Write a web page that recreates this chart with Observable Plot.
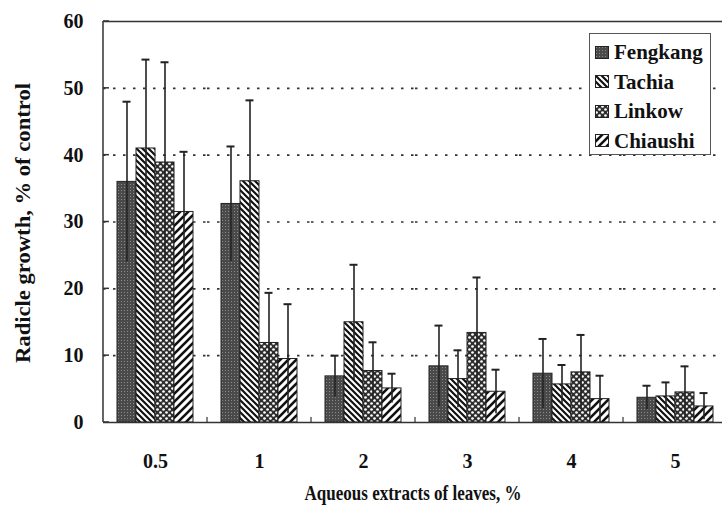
<!DOCTYPE html>
<html><head><meta charset="utf-8">
<script src="https://cdn.jsdelivr.net/npm/d3@7"></script>
<script src="https://cdn.jsdelivr.net/npm/@observablehq/plot@0.6"></script>
<style>
body{margin:0;background:#fff;}
#wrap{position:relative;width:722px;height:506px;overflow:hidden;font-family:"Liberation Serif","Times New Roman",serif;font-weight:bold;color:#111;}
#legend{position:absolute;left:589px;top:33px;width:122px;height:122px;border:1px solid #555;box-sizing:border-box;background:#fff;}
.item{position:absolute;left:5px;height:22px;display:flex;align-items:center;font-size:21px;line-height:22px;}
.item svg{margin-right:5px;}
#ylab{position:absolute;left:23px;top:223px;white-space:nowrap;font-size:20px;line-height:20px;}
#xlab{position:absolute;left:413px;top:493px;white-space:nowrap;font-size:21px;line-height:21px;}
#defs{position:absolute;width:0;height:0;}
svg text{font-family:"Liberation Serif","Times New Roman",serif;}
</style></head>
<body>
<div id="wrap">
<svg id="defs" width="0" height="0">
<defs>
<pattern id="pat-0" width="3" height="3" patternUnits="userSpaceOnUse">
<rect width="3" height="3" fill="#4a4a4a"/><rect x="1" y="1" width="1" height="1" fill="#8a8a8a"/>
</pattern>
<pattern id="pat-1" width="6" height="6" patternUnits="userSpaceOnUse">
<rect width="6" height="6" fill="#fff"/>
<path d="M-1,-1 L7,7 M-1,5 L1,7 M5,-1 L7,1" stroke="#111" stroke-width="2.2"/>
</pattern>
<pattern id="pat-2" width="6" height="6" patternUnits="userSpaceOnUse">
<rect width="6" height="6" fill="#2e2e2e"/>
<circle cx="1.5" cy="1.5" r="1.35" fill="#fff"/><circle cx="4.5" cy="4.5" r="1.35" fill="#fff"/>
</pattern>
<pattern id="pat-3" width="8" height="8" patternUnits="userSpaceOnUse">
<rect width="8" height="8" fill="#fff"/>
<path d="M-1,9 L9,-1 M-1,1 L1,-1 M7,9 L9,7" stroke="#111" stroke-width="2.6"/>
</pattern>
</defs>
</svg>
<div id="chart"></div>
<div id="ylab">Radicle growth, % of control</div>
<div id="xlab">Aqueous extracts of leaves, %</div>
<div id="legend"></div>
</div>
<script>
const categories = ["0.5", "1", "2", "3", "4", "5"];
const series = ["Fengkang", "Tachia", "Linkow", "Chiaushi"];
const fengkang = [36.0, 32.7, 6.9, 8.4, 7.3, 3.7];
const fengkangErr = [12.0, 8.6, 3.1, 6.1, 5.2, 1.8];
const tachia = [41.0, 36.1, 15.0, 6.5, 5.7, 3.9];
const tachiaErr = [13.3, 12.1, 8.6, 4.3, 2.9, 2.1];
const linkow = [38.9, 11.9, 7.7, 13.4, 7.5, 4.5];
const linkowErr = [15.0, 7.5, 4.3, 8.3, 5.6, 3.9];
const chiaushi = [31.5, 9.5, 5.1, 4.6, 3.5, 2.4];
const chiaushiErr = [9.0, 8.2, 2.2, 3.3, 3.5, 2.0];
const yTicks = [0, 10, 20, 30, 40, 50, 60];
const gridTicks = [10, 20, 30, 40, 50];

const values = [fengkang, tachia, linkow, chiaushi];
const errs = [fengkangErr, tachiaErr, linkowErr, chiaushiErr];
const rows = [];
series.forEach((s, j) => categories.forEach((c, i) =>
  rows.push({cat: c, series: s, idx: j, value: values[j][i], err: errs[j][i]})));

const barMarks = series.map((s, j) =>
  Plot.barY(rows.filter(d => d.idx === j), {fx: "cat", x: "series", y: "value", fill: `url(#pat-${j})`, stroke: "#222", strokeWidth: 1}));

const serif = "'Liberation Serif', 'Times New Roman', serif";
const plot = Plot.plot({
  width: 722, height: 506,
  marginLeft: 103, marginRight: -5, marginTop: 21, marginBottom: 84,
  style: {fontFamily: serif, fontSize: "20px", fontWeight: "bold", color: "#111", background: "transparent", overflow: "visible"},
  fx: {domain: categories, padding: 0, label: null},
  x: {domain: series, paddingInner: 0, paddingOuter: 0.68, axis: null},
  y: {domain: [0, 60], label: null},
  marks: [
    Plot.ruleY(gridTicks, {stroke: "#333", strokeDasharray: "2.5,7.5", strokeWidth: 1.6}),
    ...barMarks,
    Plot.ruleX(rows, {fx: "cat", x: "series", y1: d => d.value - d.err, y2: d => d.value + d.err, stroke: "#222", strokeWidth: 1.6}),
    Plot.tickY(rows, {fx: "cat", x: "series", y: d => d.value + d.err, insetLeft: 5.5, insetRight: 5.5, stroke: "#222", strokeWidth: 2}),
    Plot.ruleY([0, 60], {stroke: "#333", strokeWidth: 1.5}),
    Plot.axisY({ticks: yTicks, tickSize: 0, tickPadding: 20, label: null, fontFamily: serif, fontSize: 20}),
    Plot.axisFx({anchor: "bottom", tickSize: 0, tickPadding: 31, label: null, fontFamily: serif, fontSize: 20})
  ]
});
document.getElementById("chart").append(plot);

// axis line, inward y ticks and group separator ticks, placed through Plot's scales
const svg = d3.select(plot);
const ys = plot.scale("y"), fxs = plot.scale("fx");
const y0 = ys.apply(0), y60 = ys.apply(60);
svg.append("line").attr("x1", 103).attr("x2", 103).attr("y1", y60).attr("y2", y0).attr("stroke", "#333").attr("stroke-width", 1.5);
yTicks.forEach(t => svg.append("line").attr("x1", 103).attr("x2", 109).attr("y1", ys.apply(t)).attr("y2", ys.apply(t)).attr("stroke", "#333").attr("stroke-width", 1.5));
categories.slice(1).forEach(c => {
  const bx = fxs.apply(c);
  svg.append("line").attr("x1", bx).attr("x2", bx).attr("y1", y0).attr("y2", y0 - 5).attr("stroke", "#333").attr("stroke-width", 1.2);
});

// fit axis titles to the reference extents
const ylab = document.getElementById("ylab");
const yw = ylab.getBoundingClientRect().width;
ylab.style.transform = `translate(-50%,-50%) rotate(-90deg) scale(${280 / yw},1)`;
ylab.style.transformOrigin = "0 0";
ylab.style.transform = `rotate(-90deg) scale(${280 / yw},1) translate(-50%,-50%)`;
const xlab = document.getElementById("xlab");
const xw = xlab.getBoundingClientRect().width;
xlab.style.transformOrigin = "0 0";
xlab.style.transform = `scale(${217 / xw},1) translate(-50%,-50%)`;

const legend = d3.select("#legend");
series.forEach((s, j) => {
  const it = legend.append("div").attr("class", "item").style("top", (7 + j * 29.5) + "px");
  const sw = it.append("svg").attr("width", 14).attr("height", 13);
  sw.append("rect").attr("x", 0.5).attr("y", 0.5).attr("width", 13).attr("height", 12).attr("fill", `url(#pat-${j})`).attr("stroke", "#222");
  it.append("span").text(s);
});
</script>
</body></html>
